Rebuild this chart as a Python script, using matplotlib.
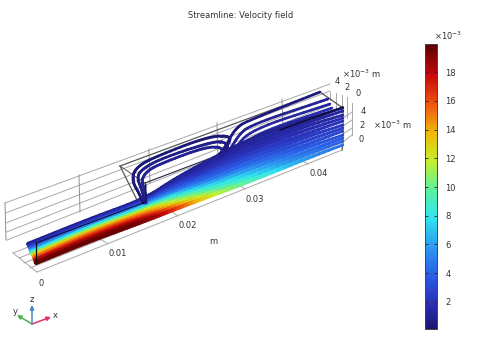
import numpy as np
import matplotlib
matplotlib.use("Agg")
import matplotlib.pyplot as plt
from matplotlib.collections import LineCollection
from matplotlib.colors import LinearSegmentedColormap, Normalize
from matplotlib.cm import ScalarMappable

# ---- streamline data (screen projection of the 3D view) ----
station_x = [90, 145, 175, 210, 250, 300, 343]
start_x = [28, 29, 30, 30.5, 31, 32, 33, 34, 34.5, 35, 35.5, 36]
row_y = [
    [244, 219, 199, 179, 160, 139, 121, 108],
    [246, 221, 201, 182, 163, 143, 125, 111],
    [248, 223, 203, 184, 167, 147, 128, 115],
    [250, 225, 205, 187, 170, 150, 132, 118],
    [252, 227, 207, 190, 173, 154, 136, 121],
    [254, 229, 209, 193, 176, 158, 139, 125],
    [255, 231, 211, 195, 180, 162, 143, 128],
    [257, 233, 213, 198, 183, 166, 147, 131],
    [259, 235, 215, 201, 186, 169, 150, 135],
    [260, 237, 217, 204, 189, 173, 154, 138],
    [262, 239, 219, 206, 193, 177, 157, 141],
    [263, 241, 221, 209, 196, 181, 161, 145],
]
row_speed = [
    [1, 1, 1, 1, 1, 1, 1, 1],
    [2, 2, 2, 1.5, 1.3, 1.3, 1.3, 1.3],
    [3.5, 3.5, 3.5, 2.2, 1.7, 1.6, 1.5, 1.5],
    [5.5, 5.5, 5.5, 3, 2.2, 1.9, 1.8, 1.8],
    [8, 8, 8, 4, 3, 2.6, 2, 2],
    [10.5, 10.5, 10.5, 5.5, 3.6, 3.2, 2.4, 2.3],
    [13, 13, 13, 7.5, 4.6, 4, 2.8, 2.6],
    [15, 15, 15, 9.5, 6, 4.8, 3.3, 2.9],
    [16.5, 16.5, 16.5, 11.5, 7.5, 5.8, 3.8, 3.2],
    [18, 18, 18, 13, 9, 7, 4.4, 3.5],
    [19, 19, 19, 15, 10.5, 8, 5, 3.9],
    [19.6, 19.6, 19.6, 17, 12, 9.5, 6, 4.4],
]
loop_lines = [
    [(143, 203), (139, 193), (133, 183), (133, 173), (140, 165), (153, 158), (193, 142), (215, 136), (227, 136), (231, 139), (226, 147), (220, 155)],
    [(145, 203), (142, 190), (137, 178), (141, 170), (158, 160), (195, 147), (218, 141), (226, 143), (228, 148), (222, 155)],
    [(146, 203), (145, 190), (141, 180), (148, 170), (165, 162), (197, 150), (216, 146), (224, 150), (220, 157)],
]
far_lines = [
    [(218, 156), (226, 146), (232, 134), (238, 127), (245, 122), (320, 92)],
    [(220, 157), (230, 150), (238, 136), (250, 125), (328, 99)],
    [(222, 158), (235, 149), (250, 130), (330, 104)],
    [(224, 159), (240, 150), (255, 134), (332, 108)],
]
loop_speed = [0.4, 0.7, 1.0]
far_speed = [0.5, 1.0, 1.3, 1.6]

x_tick_labels = ["0", "0.01", "0.02", "0.03", "0.04"]
x_tick_pos = [(41, 283), (118, 254), (188, 226), (255, 199), (319, 173)]
y_tick_labels = ["4", "2", "0"]
y_tick_pos = [(337, 82), (347, 88), (358, 94)]
z_tick_labels = ["4", "2", "0"]
z_tick_pos = [(363, 112), (362, 126), (361, 140)]
cbar_ticks = [2, 4, 6, 8, 10, 12, 14, 16, 18]
cbar_min, cbar_max = 0.12, 19.95

cmap = LinearSegmentedColormap.from_list("rainbow", [
    (0.0, "#1b1670"), (0.09, "#2a2fb8"), (0.19, "#2a5fe8"), (0.29, "#2c9bf0"),
    (0.39, "#2ee6ee"), (0.49, "#60f0a0"), (0.59, "#c4f02a"), (0.69, "#f0b808"),
    (0.79, "#f05410"), (0.89, "#c80a0a"), (1.0, "#5a0000")])
norm = Normalize(cbar_min, cbar_max)


def smooth(pts, n=3):
    a = np.asarray(pts, float)
    for _ in range(n):
        q = 0.75 * a[:-1] + 0.25 * a[1:]
        r = 0.25 * a[:-1] + 0.75 * a[1:]
        mid = np.empty((2 * len(q), a.shape[1]))
        mid[0::2], mid[1::2] = q, r
        a = np.vstack([a[:1], mid, a[-1:]])
    return a


def draw_stream(ax, pts, lw, z, taper=False):
    a = smooth(pts)
    xy = a[:, :2]
    segs = np.stack([xy[:-1], xy[1:]], axis=1)
    widths = lw
    if taper:
        widths = np.interp(xy[:-1, 0], [200, 280, 343], [lw, lw, 1.8])
    lc = LineCollection(segs, cmap=cmap, norm=norm, linewidths=widths, zorder=z, capstyle="round")
    lc.set_array(0.5 * (a[:-1, 2] + a[1:, 2]))
    ax.add_collection(lc)


fig = plt.figure(figsize=(4.82, 3.63), dpi=100)
ax = fig.add_axes([0, 0, 1, 1])
ax.set_xlim(0, 482)
ax.set_ylim(363, 0)
ax.axis("off")

GRID = "#a8a8a8"
# back wall grid
wall_left = [(5, 203), (5.5, 213), (6, 223), (6.5, 232), (7, 240)]
wall_right_y = [84, 91, 98, 105, 112]
for (x0, y0), y1 in zip(wall_left, wall_right_y):
    ax.plot([x0, 330], [y0, y1], color=GRID, lw=0.7, zorder=1)
for xs, y0, y1 in [(5, 203, 240), (79, 175, 212), (149, 149, 183), (217, 123, 160), (282, 99, 130)]:
    ax.plot([xs, xs + 1], [y0, y1], color="#909090", lw=0.7, zorder=1)
# floor grid
floor_start = [(13, 253), (19, 258), (24, 263), (30, 268), (37, 272)]
floor_end_y = [124, 130, 137, 143, 150]
for (x0, y0), y1 in zip(floor_start, floor_end_y):
    ax.plot([x0, 342], [y0, y1], color=GRID, lw=0.7, zorder=1)
for (x0, y0), (x1, y1) in [((37, 272), (13, 253)), ((108, 244), (90, 232)), ((178, 216), (160, 204)),
                           ((245, 189), (228, 178)), ((308, 164), (290, 153))]:
    ax.plot([x0, x1], [y0, y1], color=GRID, lw=0.7, zorder=1)
# far wall grid
for xs, y0, y1 in [(330, 92, 100), (336, 93, 110), (342, 95, 120), (347, 97, 118), (352, 103, 135)]:
    ax.plot([xs, xs], [y0, y1], color=GRID, lw=0.7, zorder=1)
for y0, y1 in [(118, 112), (126, 120), (134, 128), (142, 135)]:
    ax.plot([343, 352], [y0, y1], color=GRID, lw=0.7, zorder=1)

# wide-channel box (behind)
BOX = "#555555"
ax.plot([120, 320, 343, 343, 342], [166, 92, 108, 142, 150], color=BOX, lw=0.9, zorder=2)
ax.plot([120, 138], [166, 202], color=BOX, lw=0.9, zorder=2)
ax.plot([120, 145], [166, 183], color=BOX, lw=0.7, zorder=2)
ax.plot([145, 145], [183, 203], color="#222222", lw=0.8, zorder=2)

# streamlines
for sx, ys, vs in zip(start_x, row_y, row_speed):
    xs = [sx] + station_x
    draw_stream(ax, list(zip(xs, ys, vs)), 2.9, 3, taper=True)
for line, v in zip(loop_lines, loop_speed):
    draw_stream(ax, [(x, y, v) for x, y in line], 2.0, 4)
for line, v in zip(far_lines, far_speed):
    draw_stream(ax, [(x, y, v) for x, y in line], 1.9, 2.5)

# channel edges drawn over the streamlines
ax.plot([36, 143], [243, 203], color="#101030", lw=0.8, zorder=5)
ax.plot([36, 36], [243, 263], color="#101010", lw=0.9, zorder=5)
ax.plot([143, 146, 146], [203, 201, 185], color="#101030", lw=0.7, zorder=5)
ax.plot([145, 343], [183, 108], color="#202040", lw=0.8, zorder=2.6)
ax.plot([280, 343], [130, 107], color="#0c0c30", lw=1.1, zorder=5)

# texts
TXT = "#333333"
FS = 6
ax.text(241, 15, "Streamline: Velocity field", ha="center", va="center", fontsize=FS, color=TXT)
for lab, (x, y) in zip(x_tick_labels, x_tick_pos):
    ax.text(x, y, lab, ha="center", va="center", fontsize=FS, color=TXT)
for lab, (x, y) in zip(y_tick_labels, y_tick_pos):
    ax.text(x, y, lab, ha="center", va="center", fontsize=FS, color=TXT)
for lab, (x, y) in zip(z_tick_labels, z_tick_pos):
    ax.text(x, y, lab, ha="center", va="center", fontsize=FS, color=TXT)
ax.text(213, 242, "m", ha="center", va="center", fontsize=FS, color=TXT)
ax.text(361, 74, r"$\mathregular{\times10^{-3}}$ m", ha="center", va="center", fontsize=FS, color=TXT)
ax.text(392, 125, r"$\mathregular{\times10^{-3}}$ m", ha="center", va="center", fontsize=FS, color=TXT)
ax.text(448, 36, r"$\mathregular{\times10^{-3}}$", ha="center", va="center", fontsize=FS, color=TXT)

# coordinate triad
origin = (32, 324)
for tip, col, lab, lp in [((32, 305), "#4a86c8", "z", (32, 300)),
                          ((51, 317), "#e0306a", "x", (55, 316)),
                          ((17, 315), "#4caf50", "y", (15, 312))]:
    ax.annotate("", xy=tip, xytext=origin,
                arrowprops=dict(arrowstyle="-|>", color=col, lw=1.1, mutation_scale=6, shrinkA=0, shrinkB=0))
    ax.text(lp[0], lp[1], lab, ha="center", va="center", fontsize=FS, color=TXT)

# colour bar
cax = fig.add_axes([425 / 482, 1 - 329 / 363, 12 / 482, 285 / 363])
cb = fig.colorbar(ScalarMappable(norm=norm, cmap=cmap), cax=cax)
cb.set_ticks(cbar_ticks)
cax.tick_params(axis="y", direction="in", length=2, width=0.6, labelsize=FS, labelcolor=TXT,
                left=True, right=True, pad=6, color="#222222")
cb.outline.set_edgecolor("#444444")
cb.outline.set_linewidth(0.7)

fig.savefig("out.png", dpi=100)
